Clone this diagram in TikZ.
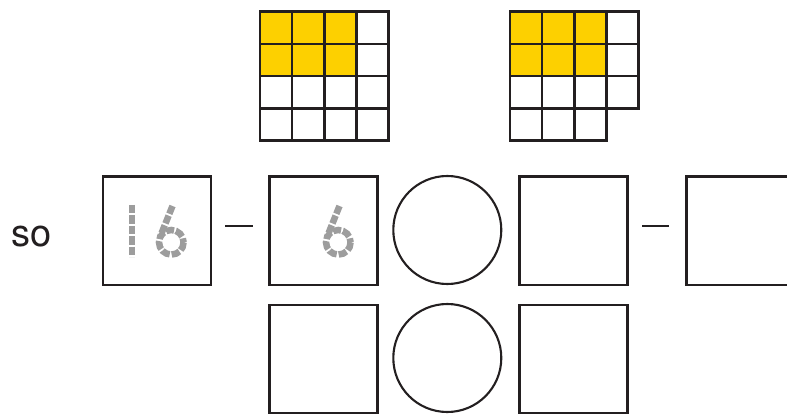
\documentclass[tikz,border=0pt]{standalone}
\usepackage{fontspec}
\setmainfont{TeX Gyre Heros}
\definecolor{ink}{HTML}{231F20}
\definecolor{gold}{HTML}{FDD000}
\definecolor{trace}{HTML}{9D9D9D}
\tikzset{
  cell/.style={draw=ink, line width=2.8pt, minimum size=32.1pt, inner sep=0pt, anchor=north west, fill=white},
  shaded/.style={cell, fill=gold},
  answerbox/.style={draw=ink, line width=2.6pt, minimum size=108pt, inner sep=0pt, anchor=north west},
  ring/.style={draw=ink, line width=2.1pt, circle, minimum size=108pt, inner sep=0pt},
  minusline/.style={draw=ink, line width=1.6pt},
  tracestroke/.style={draw=trace, line width=6.5pt, dash pattern=on 8.4pt off 2pt}
}
\begin{document}
\begin{tikzpicture}[x=1pt,y=-1pt]
\useasboundingbox (0,0) rectangle (787,414);
\begin{scope}
\clip (0,0) rectangle (787,414);
% grid 1
\foreach \r in {0,1,2,3}{
  \foreach \c in {0,1,2,3}{
    \pgfmathtruncatemacro{\isy}{(\r<2) && (\c<3)}
    \ifnum\isy=1
      \node[shaded] (ga\r\c) at (258.5+32.1*\c, 10.5+32.1*\r) {};
    \else
      \node[cell] (ga\r\c) at (258.5+32.1*\c, 10.5+32.1*\r) {};
    \fi
  }
}
% grid 2
\foreach \r in {0,1,2,3}{
  \foreach \c in {0,1,2,3}{
    \pgfmathtruncatemacro{\isy}{(\r<2) && (\c<3)}
    \pgfmathtruncatemacro{\skip}{(\r==3) && (\c==3)}
    \ifnum\skip=0
    \ifnum\isy=1
      \node[shaded] (gb\r\c) at (508.5+32.1*\c, 10.5+32.1*\r) {};
    \else
      \node[cell] (gb\r\c) at (508.5+32.1*\c, 10.5+32.1*\r) {};
    \fi
    \fi
  }
}
% so
\node[anchor=base west, inner sep=0pt, font=\fontsize{38}{40}\selectfont, text=ink] (so) at (11,247) {so};
% row 1
\node[answerbox] (b1) at (101.5,175.5) {};
\node[answerbox] (b2) at (268,175.5) {};
\node[ring] (c1) at (447.3,230) {};
\node[answerbox] (b3) at (518,175.5) {};
\node[answerbox] (b4) at (685,175.5) {};
% row 2
\node[answerbox] (b5) at (268,303.5) {};
\node[ring] (c2) at (447.3,358) {};
\node[answerbox] (b6) at (518,303.5) {};
% minus signs
\coordinate (m1a) at (225,226); \coordinate (m1b) at (253,226);
\coordinate (m2a) at (642,226); \coordinate (m2b) at (669,226);
\draw[minusline] (m1a) -- (m1b);
\draw[minusline] (m2a) -- (m2b);
% traced digits
\draw[tracestroke] (132,205) -- (132,257);
\draw[tracestroke] (172.5,206) -- (160,237);
\draw[tracestroke] (171.3,242.3) circle (12.3);
\draw[tracestroke] (339.5,206) -- (327,237);
\draw[tracestroke] (338.3,242.3) circle (12.3);
\end{scope}
\end{tikzpicture}
\end{document}
